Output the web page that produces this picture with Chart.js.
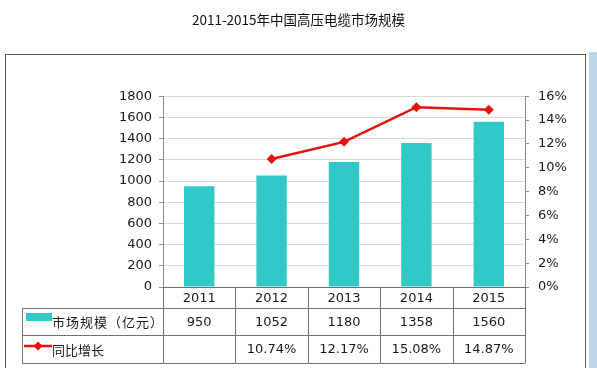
<!DOCTYPE html>
<html>
<head>
<meta charset="utf-8">
<script src="https://cdn.jsdelivr.net/npm/chart.js@4/dist/chart.umd.min.js"></script>
<style>
  html, body { margin: 0; padding: 0; background: #fff; }
  #wrap { position: relative; width: 597px; height: 368px; }
</style>
</head>
<body>
<div id="wrap"><canvas id="chart" width="597" height="368"></canvas></div>
<script>
const years = ['2011', '2012', '2013', '2014', '2015'];
const marketSize = [950, 1052, 1180, 1358, 1560];
const yoyGrowth = [null, 10.74, 12.17, 15.08, 14.87];
const growthLabels = ['', '10.74%', '12.17%', '15.08%', '14.87%'];

const titleText = '2011-2015年中国高压电缆市场规模';
const sizeLabel = '市场规模（亿元）';
const growthLabel = '同比增长';

const barColor = '#31c8c8';
const lineColor = '#e3140d';
const numFont = '13px "DejaVu Sans", Verdana, sans-serif';
const cjkFont = '13px "Noto Sans CJK SC", sans-serif';

// frame, data table and legend keys drawn around the chart
const tablePlugin = {
  id: 'dataTable',
  beforeDraw(chart) {
    const c = chart.ctx;
    c.save();
    // light blue strip on the right
    c.fillStyle = '#bcd6ec';
    c.fillRect(589, 52, 8, 316);
    // outer frame
    c.strokeStyle = '#5a5a5a';
    c.lineWidth = 1;
    c.strokeRect(5.5, 54.5, 580, 320);
    c.restore();
  },
  afterDraw(chart) {
    const c = chart.ctx;
    const area = chart.chartArea;
    const n = years.length;
    const w = (area.right - area.left) / n;
    const rows = [area.bottom, 308, 335, 363];
    const tableLeft = 22;
    c.save();
    c.strokeStyle = '#707070';
    c.lineWidth = 1;
    c.beginPath();
    // horizontal lines
    c.moveTo(area.left, rows[0] + 0.5); c.lineTo(area.right, rows[0] + 0.5);
    for (let r = 1; r < rows.length; r++) {
      c.moveTo(tableLeft, rows[r] + 0.5); c.lineTo(area.right, rows[r] + 0.5);
    }
    // vertical lines
    for (let i = 0; i <= n; i++) {
      const x = Math.round(area.left + i * w) + 0.5;
      c.moveTo(x, rows[0]); c.lineTo(x, rows[3] + 0.5);
    }
    c.moveTo(tableLeft + 0.5, rows[1]); c.lineTo(tableLeft + 0.5, rows[3] + 0.5);
    c.stroke();

    // cell texts
    c.fillStyle = '#1a1a1a';
    c.textAlign = 'center';
    c.textBaseline = 'middle';
    c.font = numFont;
    const xs = chart.scales.x;
    for (let i = 0; i < n; i++) {
      const x = xs.getPixelForValue(i);
      c.fillText(years[i], x, (rows[0] + rows[1]) / 2 + 1);
      c.fillText(String(marketSize[i]), x, (rows[1] + rows[2]) / 2 + 1);
      c.fillText(growthLabels[i], x, (rows[2] + rows[3]) / 2 + 1);
    }
    // row headers with legend keys
    c.textAlign = 'left';
    c.font = cjkFont;
    c.letterSpacing = '1px';
    c.fillText(sizeLabel, 52, (rows[1] + rows[2]) / 2 + 1);
    c.letterSpacing = '0px';
    c.fillText(growthLabel, 52, (rows[2] + rows[3]) / 2 + 1);
    c.fillStyle = barColor;
    c.fillRect(26, 313, 26, 8);
    const ly = 346;
    c.strokeStyle = lineColor;
    c.lineWidth = 2.5;
    c.beginPath(); c.moveTo(24, ly); c.lineTo(52, ly); c.stroke();
    c.fillStyle = lineColor;
    c.beginPath();
    c.moveTo(38, ly - 4.5); c.lineTo(42.5, ly); c.lineTo(38, ly + 4.5); c.lineTo(33.5, ly);
    c.closePath(); c.fill();
    c.restore();
  }
};

new Chart(document.getElementById('chart'), {
  type: 'bar',
  data: {
    labels: years,
    datasets: [{
      type: 'line',
      label: growthLabel,
      data: yoyGrowth,
      yAxisID: 'y1',
      borderColor: lineColor,
      backgroundColor: lineColor,
      borderWidth: 2.5,
      pointStyle: 'rectRot',
      pointRadius: 5,
      pointBorderWidth: 0,
      tension: 0,
      order: 0
    }, {
      label: sizeLabel,
      data: marketSize,
      yAxisID: 'y',
      backgroundColor: barColor,
      barPercentage: 0.42,
      categoryPercentage: 1,
      order: 1
    }]
  },
  options: {
    responsive: false,
    animation: false,
    layout: { padding: { left: 0, right: 0, top: 0, bottom: 81 } },
    plugins: {
      legend: { display: false },
      tooltip: { enabled: false },
      title: {
        display: true,
        text: titleText,
        color: '#111',
        font: { family: '"Noto Sans CJK SC", sans-serif', size: 13.5, weight: 'normal' },
        padding: { top: 12, bottom: 68 }
      }
    },
    scales: {
      x: { display: false },
      y: {
        position: 'left',
        min: 0, max: 1800,
        ticks: { stepSize: 200, padding: 7, color: '#1a1a1a', callback: v => String(v), font: { family: '"DejaVu Sans", Verdana, sans-serif', size: 13 } },
        grid: { color: '#d9d9d9', tickLength: 4, tickColor: '#909090' },
        border: { display: true, color: '#8a8a8a' },
        afterFit(axis) { axis.width = 163; }
      },
      y1: {
        position: 'right',
        min: 0, max: 16,
        ticks: { stepSize: 2, padding: 9, color: '#1a1a1a', callback: v => v + '%', font: { family: '"DejaVu Sans", Verdana, sans-serif', size: 13 } },
        grid: { drawOnChartArea: false, tickLength: 4, tickColor: '#909090' },
        border: { display: true, color: '#8a8a8a' },
        afterFit(axis) { axis.width = 72; }
      }
    }
  },
  plugins: [tablePlugin]
});
</script>
</body>
</html>
